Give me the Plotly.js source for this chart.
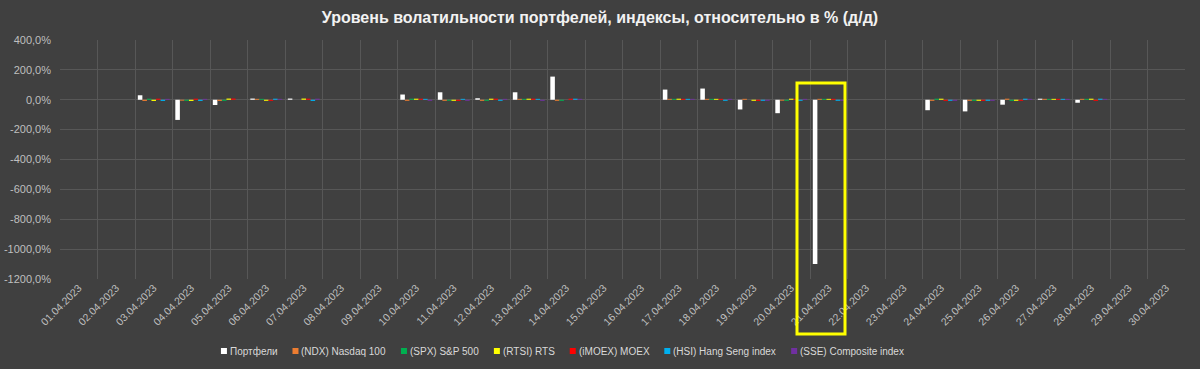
<!DOCTYPE html>
<html>
<head>
<meta charset="utf-8">
<script src="https://cdn.plot.ly/plotly-3.0.1.min.js"></script>
<style>html,body{margin:0;padding:0;background:#404040;}#chart{width:1200px;height:369px;}</style>
</head>
<body>
<div id="chart"></div>
<script>
const dates = ['01.04.2023','02.04.2023','03.04.2023','04.04.2023','05.04.2023','06.04.2023','07.04.2023','08.04.2023','09.04.2023','10.04.2023','11.04.2023','12.04.2023','13.04.2023','14.04.2023','15.04.2023','16.04.2023','17.04.2023','18.04.2023','19.04.2023','20.04.2023','21.04.2023','22.04.2023','23.04.2023','24.04.2023','25.04.2023','26.04.2023','27.04.2023','28.04.2023','29.04.2023','30.04.2023'];

const portfolio = [null,null,30,-135,-35,8,8,null,null,35,50,10,50,155,null,null,68,75,-65,-90,-1100,null,null,-70,-78,-33,7,-20,null,null];
const ndx  = [null,null,-8,-6,-8,6,0,null,null,-7,-7,-7,6,-7,null,null,6,6,6,-6,6,null,null,-7,-7,7,6,6,null,null];
const spx  = [null,null,7,-7,-7,6,0,null,null,7,-6,-7,6,-7,null,null,6,6,0,-7,6,null,null,7,-7,-7,6,6,null,null];
const rts  = [null,null,-8,-8,8,-7,8,null,null,7,-7,7,7,0,null,null,7,6,-7,7,6,null,null,7,-7,-7,6,7,null,null];
const moex = [null,null,7,7,8,-7,7,null,null,7,-7,7,7,7,null,null,6,6,-7,6,6,null,null,-7,-7,-7,6,-7,null,null];
const hsi  = [null,null,-8,-8,0,7,-8,null,null,6,6,-7,6,7,null,null,6,-7,-7,-7,-7,null,null,-7,-7,7,6,7,null,null];
const sse  = [null,null,6,6,0,6,7,null,null,-7,-7,6,-7,6,null,null,6,6,-7,6,-7,null,null,-7,-7,6,6,6,null,null];

const seriesNames = ['Портфели','(NDX) Nasdaq 100','(SPX) S&P 500','(RTSI) RTS','(iMOEX) MOEX','(HSI) Hang Seng index','(SSE) Composite index'];
const seriesValues = [portfolio, ndx, spx, rts, moex, hsi, sse];
const seriesColors = ['#FFFFFF','#ED7D31','#00B050','#FFFF00','#FF0000','#00B0F0','#7030A0'];

const yTickVals = [400,200,0,-200,-400,-600,-800,-1000,-1200];
const yTickText = ['400,0%','200,0%','0,0%','-200,0%','-400,0%','-600,0%','-800,0%','-1000,0%','-1200,0%'];

const FONT = '"Liberation Sans", Arial, sans-serif';
const LEGEND_FONT_SIZE = 10;

// plot area geometry (pixels)
const W = 1200, H = 369;
const M = {l: 60, r: 15, t: 40, b: 90};
const PW = W - M.l - M.r, PH = H - M.t - M.b;
const px2x = p => (p - M.l) / PW;
const px2y = p => (H - M.b - p) / PH;

const traces = seriesNames.map((name, i) => ({
  type: 'bar',
  name: name,
  x: dates,
  y: seriesValues[i],
  marker: {color: seriesColors[i], line: {width: 0}},
  showlegend: false
}));

// custom compact legend (Excel-like), positions computed from measured text widths
const ctx = document.createElement('canvas').getContext('2d');
ctx.font = LEGEND_FONT_SIZE + 'px "Liberation Sans", Arial, sans-serif';
const SQ = 6, SQ_GAP = 2, ITEM_GAP = 16, LEGEND_CENTER = 562, legendY = 351;
const widths = seriesNames.map(n => SQ + SQ_GAP + ctx.measureText(n).width);
const total = widths.reduce((a, b) => a + b, 0) + ITEM_GAP * (widths.length - 1);
let cursor = LEGEND_CENTER - total / 2;
const shapes = [];
const annotations = [];
seriesNames.forEach((name, i) => {
  const x0 = cursor;
  shapes.push({
    type: 'rect', xref: 'paper', yref: 'paper',
    x0: px2x(x0), x1: px2x(x0 + SQ),
    y0: px2y(legendY + 3), y1: px2y(legendY - 3),
    fillcolor: seriesColors[i], line: {width: 0}
  });
  annotations.push({
    xref: 'paper', yref: 'paper',
    x: px2x(x0 + SQ + SQ_GAP - 1), y: px2y(legendY),
    xanchor: 'left', yanchor: 'middle',
    text: name, showarrow: false,
    font: {family: FONT, size: LEGEND_FONT_SIZE, color: '#D9D9D9'}
  });
  cursor += widths[i] + ITEM_GAP;
});

// yellow highlight frame around 21.04
shapes.push({
  type: 'rect', xref: 'paper', yref: 'paper',
  x0: px2x(797), x1: px2x(845),
  y0: px2y(334), y1: px2y(83),
  line: {color: '#FFFF00', width: 3},
  fillcolor: 'rgba(0,0,0,0)'
});

const layout = {
  width: W,
  height: H,
  paper_bgcolor: '#404040',
  plot_bgcolor: '#404040',
  margin: Object.assign({autoexpand: false}, M),
  barmode: 'group',
  bargap: 0.15,
  bargroupgap: 0,
  showlegend: false,
  title: {
    text: '<b>Уровень волатильности портфелей, индексы, относительно в % (д/д)</b>',
    font: {family: FONT, size: 16, color: '#F2F2F2'},
    x: 0.5, xref: 'container', xanchor: 'center',
    y: 1 - 17 / H, yref: 'container', yanchor: 'middle'
  },
  xaxis: {
    type: 'category',
    tickson: 'boundaries',
    showgrid: true,
    gridcolor: '#575757',
    gridwidth: 1,
    ticks: '',
    tickangle: -45,
    tickfont: {family: FONT, size: 10.5, color: '#BFBFBF'},
    showline: false,
    zeroline: false,
    automargin: false,
    range: [-0.5, 29.5],
    fixedrange: true
  },
  yaxis: {
    range: [-1200, 400],
    tickvals: yTickVals,
    ticktext: yTickText,
    showgrid: true,
    gridcolor: '#575757',
    gridwidth: 1,
    zeroline: true,
    zerolinecolor: '#575757',
    zerolinewidth: 1,
    ticks: '',
    ticklabelstandoff: 8,
    tickfont: {family: FONT, size: 11, color: '#BFBFBF'},
    showline: false,
    automargin: false,
    fixedrange: true
  },
  shapes: shapes,
  annotations: annotations
};

Plotly.newPlot('chart', traces, layout, {displayModeBar: false, staticPlot: true});
</script>
</body>
</html>
